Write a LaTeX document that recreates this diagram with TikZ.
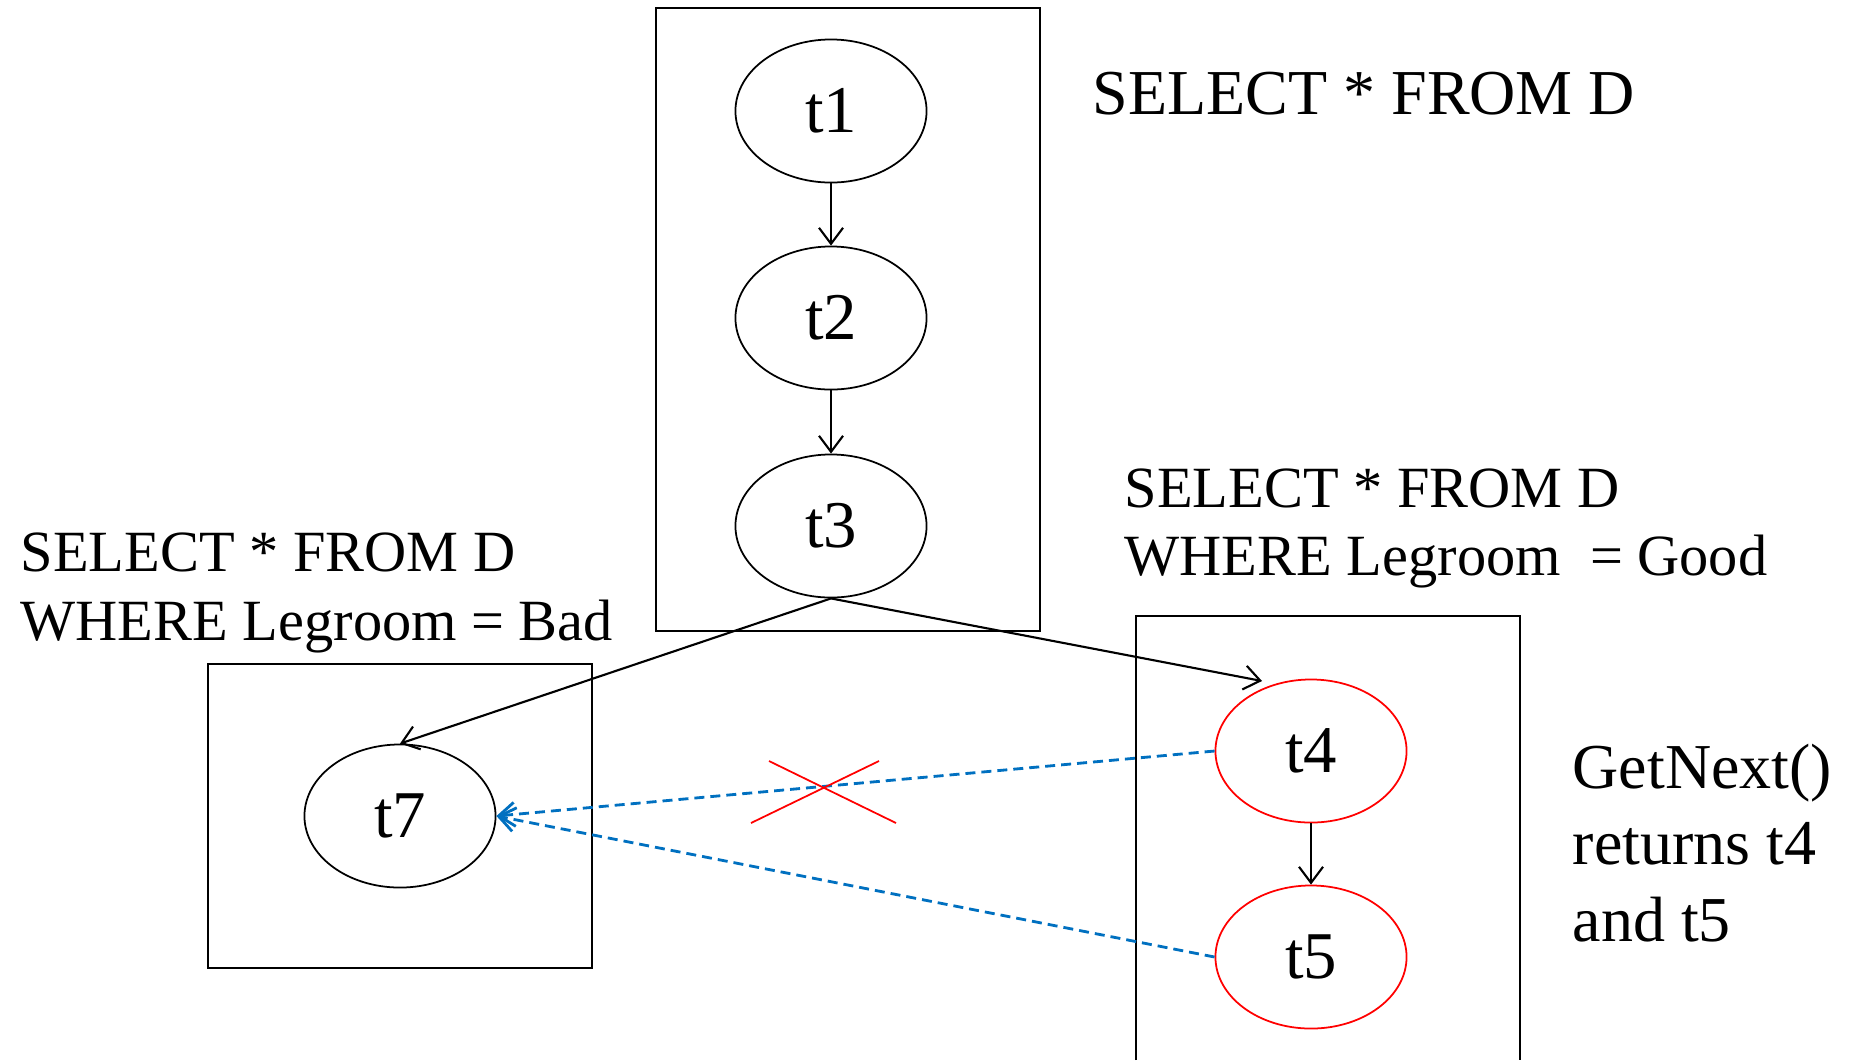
\documentclass[tikz,border=0pt]{standalone}
\usepackage{fontspec}
\setmainfont{Liberation Serif}
\usetikzlibrary{arrows.meta,shapes.geometric,calc}
\definecolor{linkblue}{RGB}{0,112,192}
\begin{document}
\begin{tikzpicture}[x=0.01cm,y=-0.01cm,
  tuple/.style={ellipse,draw,line width=0.5pt,minimum width=1.91cm,minimum height=1.43cm,inner sep=0pt,font=\fontsize{19}{22}\selectfont},
  hot/.style={tuple,draw=red},
  frame/.style={draw,line width=0.6pt},
  label/.style={anchor=base west,inner sep=0pt,font=\fontsize{18.2}{22}\selectfont},
  query/.style={label,font=\fontsize{16.6}{20}\selectfont},
  flow/.style={line width=0.6pt,-{Straight Barb[length=1.6mm,width=2.4mm]}},
  link/.style={draw=linkblue,line width=0.8pt,dash pattern=on 1.0mm off 0.6mm,-{Straight Barb[length=1.6mm,width=2.4mm]}}]
\useasboundingbox (0,0) rectangle (1849,1060);

% containers
\draw[frame] (656,8) rectangle (1040,631);
\draw[frame] (208,664) rectangle (592,968);
\draw[frame] (1136,1060) -- (1136,616) -- (1520,616) -- (1520,1060);

% tuples
\node[tuple] (t1) at (831,111) {t1};
\node[tuple] (t2) at (831,318) {t2};
\node[tuple] (t3) at (831,526) {t3};
\node[tuple] (t7) at (400,816) {t7};
\node[hot]   (t4) at (1311,751) {t4};
\node[hot]   (t5) at (1311,957) {t5};
\coordinate (t4in) at (1262,681);

% tuple order
\draw[flow] (t1) -- (t2);
\draw[flow] (t2) -- (t3);
\draw[flow] (t4) -- (t5);
\draw[flow] (t3.south) -- (t7.north);
\draw[flow] (t3.south) -- (t4in);

% links to t7
\draw[link] (t4.west) -- (t7.east);
\draw[link] (t5.west) -- (t7.east);

% crossed-out link
\coordinate (xa) at (769,761);
\coordinate (xb) at (896,823);
\coordinate (xc) at (751,823);
\coordinate (xd) at (879,761);
\draw[red,line width=0.5pt] (xa) -- (xb);
\draw[red,line width=0.5pt] (xc) -- (xd);

% queries
\node[label] (q1) at (1092,114) {SELECT * FROM D};
\node[query] (q2a) at (1124,507) {SELECT * FROM D};
\node[query] (q2b) at (1124,575) {WHERE Legroom\ \ = Good};
\node[query] (q3a) at (20,571) {SELECT * FROM D};
\node[query] (q3b) at (20,640) {WHERE Legroom = Bad};
\node[label] (n1) at (1572,788) {GetNext()};
\node[label] (n2) at (1572,864) {returns t4};
\node[label] (n3) at (1572,941) {and t5};
\end{tikzpicture}
\end{document}
